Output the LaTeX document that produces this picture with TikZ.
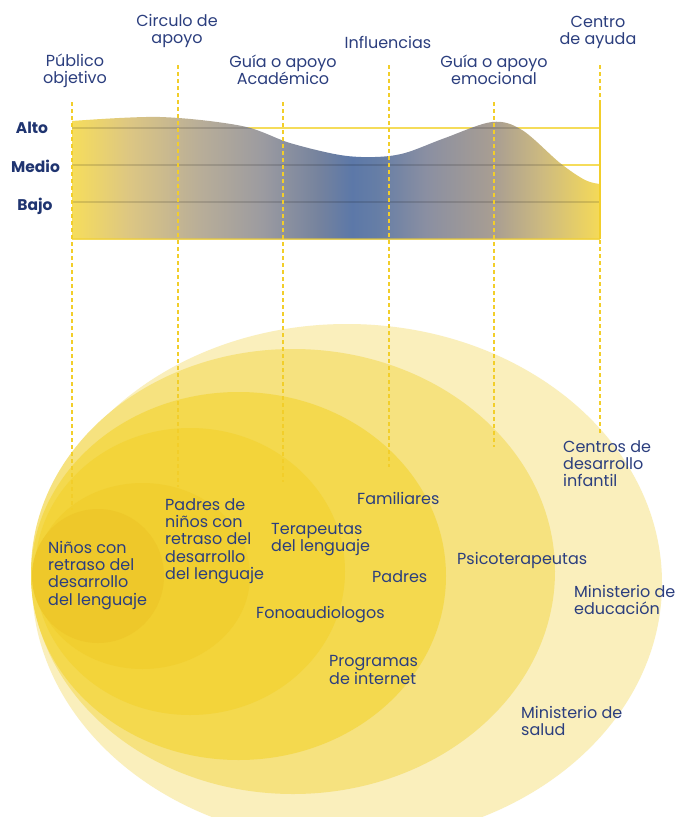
\documentclass[tikz,border=0pt]{standalone}
\usepackage{fontspec}
\setmainfont{Poppins}
\definecolor{navy}{HTML}{2B3E7E}
\definecolor{navyb}{HTML}{1F3470}
\definecolor{ylw}{HTML}{F5DC5A}
\definecolor{ylwd}{HTML}{F2CE2A}
\definecolor{eA}{HTML}{FAEFBC}
\definecolor{eB}{HTML}{F6E27F}
\definecolor{eC}{HTML}{F4D94E}
\definecolor{eD}{HTML}{F3D43A}
\definecolor{eE}{HTML}{F1CF30}
\definecolor{eF}{HTML}{EEC82A}
\definecolor{gA}{HTML}{F6DD5C}
\definecolor{gB}{HTML}{DCC683}
\definecolor{gC}{HTML}{B9AE98}
\definecolor{gD}{HTML}{9C9BA0}
\definecolor{gE}{HTML}{74829E}
\definecolor{gF}{HTML}{5C78A8}
\definecolor{gG}{HTML}{667EA6}
\definecolor{gH}{HTML}{8A8FA2}
\definecolor{gI}{HTML}{A99E92}
\definecolor{gJ}{HTML}{CDBA80}
\definecolor{gK}{HTML}{F5DA58}
\pgfdeclarehorizontalshading{chartgrad}{100bp}{color(0bp)=(gA); color(25bp)=(gA); color(30.5bp)=(gB); color(37bp)=(gC); color(43bp)=(gD); color(48.5bp)=(gE); color(51.5bp)=(gF); color(54bp)=(gG); color(58.5bp)=(gH); color(65bp)=(gI); color(69.5bp)=(gJ); color(75bp)=(gK); color(100bp)=(gK)}
\tikzset{
  lbl/.style={inner sep=0pt, text=navy, font=\fontsize{16}{17.4}\selectfont},
  lblL/.style={lbl, align=left, anchor=base west},
  lblC/.style={lbl, align=center, anchor=base},
  axl/.style={inner sep=0pt, text=navyb, font=\fontsize{15.5}{17}\selectfont\bfseries, anchor=base},
  guide/.style={draw=ylwd, line width=1.2pt, dash pattern=on 4pt off 3pt},
  level/.style={draw=ylw, line width=2pt},
}
\begin{document}
\begin{tikzpicture}[x=1pt,y=-1pt]
\useasboundingbox (0,0) rectangle (677,817);
\clip (0,0) rectangle (677,817);
\fill[white] (0,0) rectangle (677,817);

% guide coordinates
\coordinate (t1) at (72,102);  \coordinate (b1) at (72,510);
\coordinate (t2) at (178,65);  \coordinate (b2) at (178,487);
\coordinate (t3) at (283,102); \coordinate (b3) at (283,482);
\coordinate (t4) at (389,65);  \coordinate (b4) at (389,467);
\coordinate (t5) at (494,102); \coordinate (b5) at (494,447);
\coordinate (t6) at (600,65);  \coordinate (b6) at (600,433);

% level lines (beneath chart fill)
\coordinate (altoL) at (72,128);  \coordinate (altoR) at (600,128);
\coordinate (medL) at (72,165);   \coordinate (medR) at (600,165);
\coordinate (bajL) at (72,202);   \coordinate (bajR) at (600,202);
\coordinate (botL) at (72,239);   \coordinate (botR) at (600,239);
\draw[level] (altoL) -- (altoR);
\draw[level] (medL) -- (medR);
\draw[level] (bajL) -- (bajR);
\draw[level] (botL) -- (botR);

% chart fill
\def\chartpath{(72,239) -- plot[smooth, tension=0.55] coordinates {(72,121) (160,117) (242,126) (290,143) (340,155) (375,157) (405,153) (445,138) (492,122) (522,130) (560,163) (585,180) (600,184)} -- (600,239) -- cycle}
\shade[shading=chartgrad] \chartpath;
\begin{scope}
\clip \chartpath;
\draw[black, opacity=0.13, line width=2pt] (altoL) -- (altoR);
\draw[black, opacity=0.13, line width=2pt] (medL) -- (medR);
\draw[black, opacity=0.13, line width=2pt] (bajL) -- (bajR);
\draw[ylwd, opacity=0.5, line width=2pt] (botL) -- (botR);
\end{scope}

% ellipses
\fill[eA] (347,583) ellipse [x radius=315pt, y radius=259pt];
\fill[eB] (293,571.5) ellipse [x radius=262pt, y radius=222.5pt];
\fill[eC] (238.5,576) ellipse [x radius=207.5pt, y radius=184pt];
\fill[eD] (190,571.5) ellipse [x radius=155pt, y radius=143.5pt];
\fill[eE] (142.5,576) ellipse [x radius=107.5pt, y radius=93pt];
\fill[eF] (98,576) ellipse [x radius=66pt, y radius=67pt];

% guides
\draw[guide] (t1) -- (b1);
\draw[guide] (t2) -- (b2);
\draw[guide] (t3) -- (b3);
\draw[guide] (t4) -- (b4);
\draw[guide] (t5) -- (b5);
\coordinate (r6) at (600,102);
\draw[guide] (t6) -- (b6);
\draw[draw=ylwd, line width=2.5pt] (r6) -- (botR);

% top labels (anchor = baseline of last line)
\node[lblC] (pub) at (75,83.4) {Público\\objetivo};
\node[lblC] (circ) at (177,43.4) {Circulo de\\apoyo};
\node[lblC] (acad) at (283,84.4) {Guía o apoyo\\Académico};
\node[lblC] (infl) at (388,48) {Influencias};
\node[lblC] (emoc) at (494,84.4) {Guía o apoyo\\emocional};
\node[lblC] (cent) at (598,44.4) {Centro\\de ayuda};

% axis labels
\node[axl] (alto) at (32,133) {Alto};
\node[axl] (medio) at (35.5,172.5) {Medio};
\node[axl] (bajo) at (35,210) {Bajo};

% ellipse labels
\node[lblL] (ninos) at (48,605.2) {Niños con\\retraso del\\desarrollo\\del lenguaje};
\node[lblL] (padresde) at (165,579.6) {Padres de\\niños con\\retraso del\\desarrollo\\del lenguaje};
\node[lblL] (terap) at (271,551.4) {Terapeutas\\del lenguaje};
\node[lblL] (famil) at (357,504) {Familiares};
\node[lblL] (padres) at (372,582) {Padres};
\node[lblL] (fono) at (256,618) {Fonoaudiologos};
\node[lblL] (prog) at (329,684) {Programas\\de internet};
\node[lblL] (psico) at (457,564) {Psicoterapeutas};
\node[lblL] (cdi) at (563,486.8) {Centros de\\desarrollo\\infantil};
\node[lblL] (medu) at (574,614.4) {Ministerio de\\educación};
\node[lblL] (msal) at (521,735.4) {Ministerio de\\salud};
\end{tikzpicture}
\end{document}
